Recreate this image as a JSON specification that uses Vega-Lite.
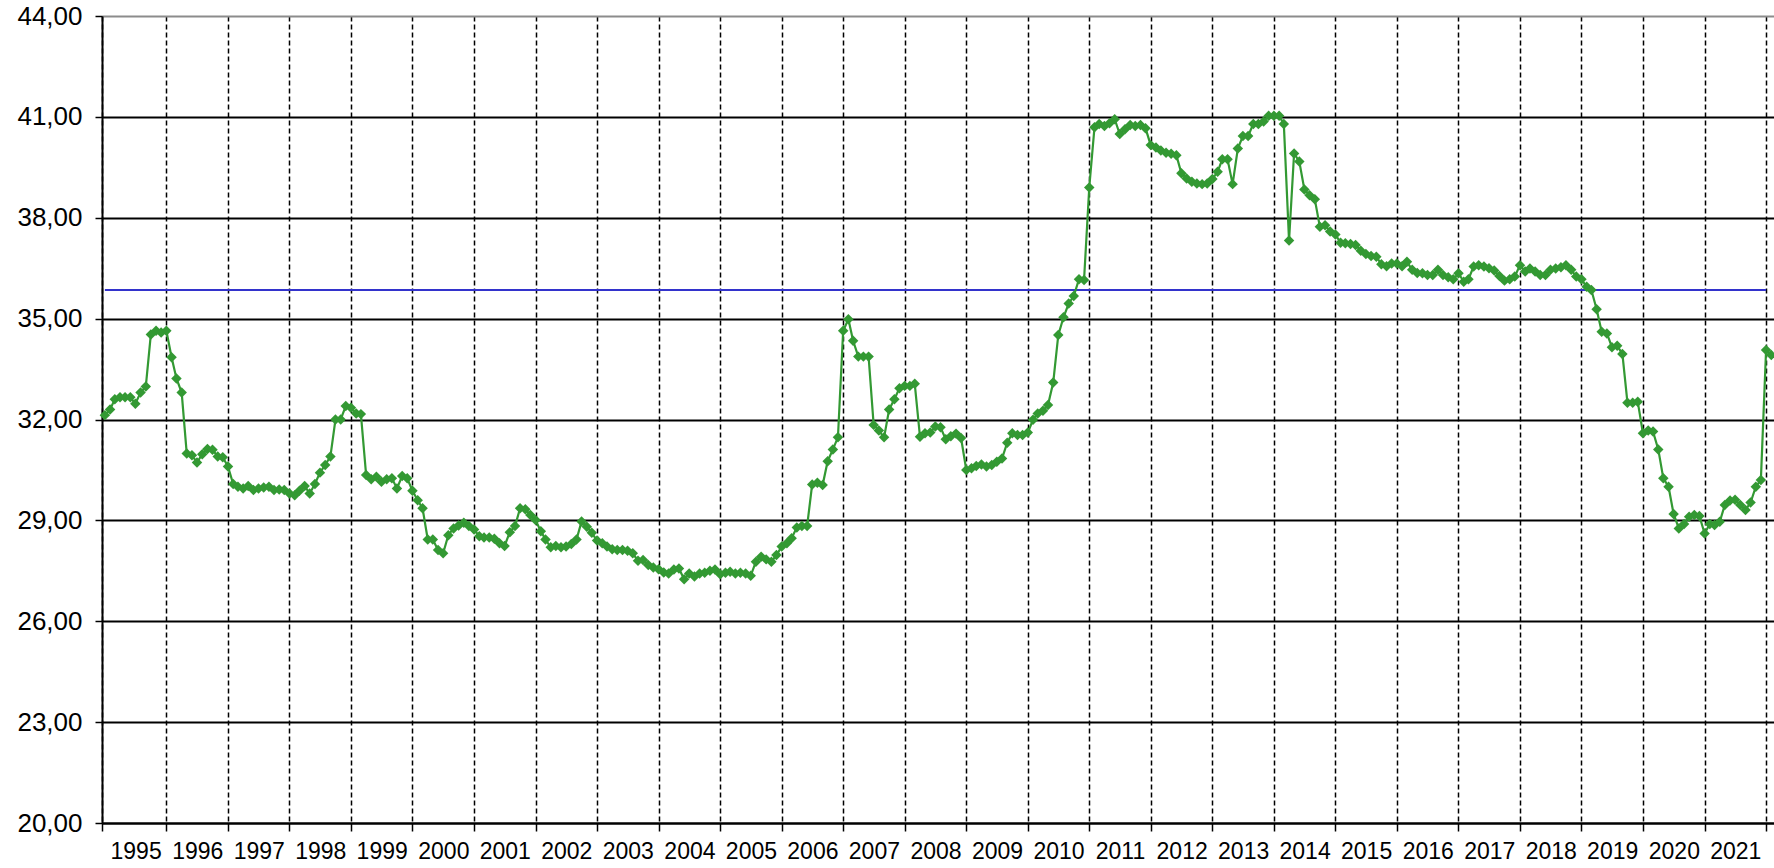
{
"$schema":"https://vega.github.io/schema/vega-lite/v6.json",
"width":1672,"height":807,
"autosize":{"type":"none"},
"padding":{"left":102,"top":16,"right":0,"bottom":45},
"background":"white",
"config":{"view":{"stroke":null},"font":"Liberation Sans"},
"datasets":{
"series":[
{"d":"1995-01-01","v":32.13},{"d":"1995-02-01","v":32.30},{"d":"1995-03-01","v":32.60},{"d":"1995-04-01","v":32.66},{"d":"1995-05-01","v":32.66},{"d":"1995-06-01","v":32.66},{"d":"1995-07-01","v":32.47},{"d":"1995-08-01","v":32.80},{"d":"1995-09-01","v":32.98},{"d":"1995-10-01","v":34.53},{"d":"1995-11-01","v":34.64},{"d":"1995-12-01","v":34.59},
{"d":"1996-01-01","v":34.64},{"d":"1996-02-01","v":33.85},{"d":"1996-03-01","v":33.22},{"d":"1996-04-01","v":32.80},{"d":"1996-05-01","v":30.99},{"d":"1996-06-01","v":30.94},{"d":"1996-07-01","v":30.72},{"d":"1996-08-01","v":30.97},{"d":"1996-09-01","v":31.12},{"d":"1996-10-01","v":31.10},{"d":"1996-11-01","v":30.90},{"d":"1996-12-01","v":30.88},
{"d":"1997-01-01","v":30.60},{"d":"1997-02-01","v":30.08},{"d":"1997-03-01","v":30.00},{"d":"1997-04-01","v":29.95},{"d":"1997-05-01","v":30.02},{"d":"1997-06-01","v":29.90},{"d":"1997-07-01","v":29.95},{"d":"1997-08-01","v":29.98},{"d":"1997-09-01","v":30.00},{"d":"1997-10-01","v":29.90},{"d":"1997-11-01","v":29.92},{"d":"1997-12-01","v":29.90},
{"d":"1998-01-01","v":29.80},{"d":"1998-02-01","v":29.75},{"d":"1998-03-01","v":29.88},{"d":"1998-04-01","v":30.02},{"d":"1998-05-01","v":29.80},{"d":"1998-06-01","v":30.08},{"d":"1998-07-01","v":30.42},{"d":"1998-08-01","v":30.65},{"d":"1998-09-01","v":30.90},{"d":"1998-10-01","v":32.00},{"d":"1998-11-01","v":32.00},{"d":"1998-12-01","v":32.40},
{"d":"1999-01-01","v":32.35},{"d":"1999-02-01","v":32.18},{"d":"1999-03-01","v":32.16},{"d":"1999-04-01","v":30.35},{"d":"1999-05-01","v":30.22},{"d":"1999-06-01","v":30.30},{"d":"1999-07-01","v":30.15},{"d":"1999-08-01","v":30.22},{"d":"1999-09-01","v":30.25},{"d":"1999-10-01","v":29.95},{"d":"1999-11-01","v":30.32},{"d":"1999-12-01","v":30.25},
{"d":"2000-01-01","v":29.88},{"d":"2000-02-01","v":29.60},{"d":"2000-03-01","v":29.36},{"d":"2000-04-01","v":28.43},{"d":"2000-05-01","v":28.43},{"d":"2000-06-01","v":28.12},{"d":"2000-07-01","v":28.02},{"d":"2000-08-01","v":28.56},{"d":"2000-09-01","v":28.76},{"d":"2000-10-01","v":28.85},{"d":"2000-11-01","v":28.93},{"d":"2000-12-01","v":28.83},
{"d":"2001-01-01","v":28.73},{"d":"2001-02-01","v":28.53},{"d":"2001-03-01","v":28.49},{"d":"2001-04-01","v":28.49},{"d":"2001-05-01","v":28.45},{"d":"2001-06-01","v":28.32},{"d":"2001-07-01","v":28.24},{"d":"2001-08-01","v":28.65},{"d":"2001-09-01","v":28.83},{"d":"2001-10-01","v":29.36},{"d":"2001-11-01","v":29.33},{"d":"2001-12-01","v":29.16},
{"d":"2002-01-01","v":29.01},{"d":"2002-02-01","v":28.68},{"d":"2002-03-01","v":28.43},{"d":"2002-04-01","v":28.20},{"d":"2002-05-01","v":28.24},{"d":"2002-06-01","v":28.20},{"d":"2002-07-01","v":28.22},{"d":"2002-08-01","v":28.30},{"d":"2002-09-01","v":28.43},{"d":"2002-10-01","v":28.97},{"d":"2002-11-01","v":28.81},{"d":"2002-12-01","v":28.63},
{"d":"2003-01-01","v":28.40},{"d":"2003-02-01","v":28.32},{"d":"2003-03-01","v":28.22},{"d":"2003-04-01","v":28.14},{"d":"2003-05-01","v":28.12},{"d":"2003-06-01","v":28.12},{"d":"2003-07-01","v":28.10},{"d":"2003-08-01","v":28.02},{"d":"2003-09-01","v":27.80},{"d":"2003-10-01","v":27.82},{"d":"2003-11-01","v":27.67},{"d":"2003-12-01","v":27.60},
{"d":"2004-01-01","v":27.55},{"d":"2004-02-01","v":27.45},{"d":"2004-03-01","v":27.42},{"d":"2004-04-01","v":27.54},{"d":"2004-05-01","v":27.57},{"d":"2004-06-01","v":27.25},{"d":"2004-07-01","v":27.42},{"d":"2004-08-01","v":27.33},{"d":"2004-09-01","v":27.42},{"d":"2004-10-01","v":27.44},{"d":"2004-11-01","v":27.50},{"d":"2004-12-01","v":27.54},
{"d":"2005-01-01","v":27.40},{"d":"2005-02-01","v":27.44},{"d":"2005-03-01","v":27.47},{"d":"2005-04-01","v":27.42},{"d":"2005-05-01","v":27.44},{"d":"2005-06-01","v":27.42},{"d":"2005-07-01","v":27.35},{"d":"2005-08-01","v":27.77},{"d":"2005-09-01","v":27.92},{"d":"2005-10-01","v":27.84},{"d":"2005-11-01","v":27.77},{"d":"2005-12-01","v":27.97},
{"d":"2006-01-01","v":28.22},{"d":"2006-02-01","v":28.32},{"d":"2006-03-01","v":28.47},{"d":"2006-04-01","v":28.79},{"d":"2006-05-01","v":28.83},{"d":"2006-06-01","v":28.83},{"d":"2006-07-01","v":30.07},{"d":"2006-08-01","v":30.12},{"d":"2006-09-01","v":30.05},{"d":"2006-10-01","v":30.76},{"d":"2006-11-01","v":31.11},{"d":"2006-12-01","v":31.47},
{"d":"2007-01-01","v":34.64},{"d":"2007-02-01","v":34.98},{"d":"2007-03-01","v":34.34},{"d":"2007-04-01","v":33.87},{"d":"2007-05-01","v":33.87},{"d":"2007-06-01","v":33.87},{"d":"2007-07-01","v":31.84},{"d":"2007-08-01","v":31.67},{"d":"2007-09-01","v":31.47},{"d":"2007-10-01","v":32.30},{"d":"2007-11-01","v":32.60},{"d":"2007-12-01","v":32.93},
{"d":"2008-01-01","v":33.00},{"d":"2008-02-01","v":33.00},{"d":"2008-03-01","v":33.06},{"d":"2008-04-01","v":31.49},{"d":"2008-05-01","v":31.59},{"d":"2008-06-01","v":31.61},{"d":"2008-07-01","v":31.79},{"d":"2008-08-01","v":31.77},{"d":"2008-09-01","v":31.41},{"d":"2008-10-01","v":31.50},{"d":"2008-11-01","v":31.58},{"d":"2008-12-01","v":31.45},
{"d":"2009-01-01","v":30.50},{"d":"2009-02-01","v":30.55},{"d":"2009-03-01","v":30.62},{"d":"2009-04-01","v":30.66},{"d":"2009-05-01","v":30.60},{"d":"2009-06-01","v":30.65},{"d":"2009-07-01","v":30.74},{"d":"2009-08-01","v":30.84},{"d":"2009-09-01","v":31.31},{"d":"2009-10-01","v":31.59},{"d":"2009-11-01","v":31.54},{"d":"2009-12-01","v":31.54},
{"d":"2010-01-01","v":31.61},{"d":"2010-02-01","v":31.99},{"d":"2010-03-01","v":32.18},{"d":"2010-04-01","v":32.26},{"d":"2010-05-01","v":32.43},{"d":"2010-06-01","v":33.10},{"d":"2010-07-01","v":34.51},{"d":"2010-08-01","v":35.04},{"d":"2010-09-01","v":35.45},{"d":"2010-10-01","v":35.67},{"d":"2010-11-01","v":36.17},{"d":"2010-12-01","v":36.15},
{"d":"2011-01-01","v":38.90},{"d":"2011-02-01","v":40.69},{"d":"2011-03-01","v":40.79},{"d":"2011-04-01","v":40.73},{"d":"2011-05-01","v":40.81},{"d":"2011-06-01","v":40.93},{"d":"2011-07-01","v":40.49},{"d":"2011-08-01","v":40.63},{"d":"2011-09-01","v":40.76},{"d":"2011-10-01","v":40.73},{"d":"2011-11-01","v":40.76},{"d":"2011-12-01","v":40.66},
{"d":"2012-01-01","v":40.16},{"d":"2012-02-01","v":40.09},{"d":"2012-03-01","v":40.00},{"d":"2012-04-01","v":39.93},{"d":"2012-05-01","v":39.90},{"d":"2012-06-01","v":39.86},{"d":"2012-07-01","v":39.32},{"d":"2012-08-01","v":39.17},{"d":"2012-09-01","v":39.07},{"d":"2012-10-01","v":39.02},{"d":"2012-11-01","v":39.00},{"d":"2012-12-01","v":39.02},
{"d":"2013-01-01","v":39.15},{"d":"2013-02-01","v":39.37},{"d":"2013-03-01","v":39.74},{"d":"2013-04-01","v":39.74},{"d":"2013-05-01","v":39.00},{"d":"2013-06-01","v":40.06},{"d":"2013-07-01","v":40.43},{"d":"2013-08-01","v":40.43},{"d":"2013-09-01","v":40.79},{"d":"2013-10-01","v":40.79},{"d":"2013-11-01","v":40.86},{"d":"2013-12-01","v":41.03},
{"d":"2014-01-01","v":41.03},{"d":"2014-02-01","v":41.03},{"d":"2014-03-01","v":40.79},{"d":"2014-04-01","v":37.32},{"d":"2014-05-01","v":39.91},{"d":"2014-06-01","v":39.67},{"d":"2014-07-01","v":38.84},{"d":"2014-08-01","v":38.67},{"d":"2014-09-01","v":38.55},{"d":"2014-10-01","v":37.73},{"d":"2014-11-01","v":37.78},{"d":"2014-12-01","v":37.59},
{"d":"2015-01-01","v":37.50},{"d":"2015-02-01","v":37.26},{"d":"2015-03-01","v":37.24},{"d":"2015-04-01","v":37.22},{"d":"2015-05-01","v":37.19},{"d":"2015-06-01","v":37.02},{"d":"2015-07-01","v":36.92},{"d":"2015-08-01","v":36.86},{"d":"2015-09-01","v":36.84},{"d":"2015-10-01","v":36.62},{"d":"2015-11-01","v":36.56},{"d":"2015-12-01","v":36.64},
{"d":"2016-01-01","v":36.64},{"d":"2016-02-01","v":36.56},{"d":"2016-03-01","v":36.69},{"d":"2016-04-01","v":36.45},{"d":"2016-05-01","v":36.36},{"d":"2016-06-01","v":36.35},{"d":"2016-07-01","v":36.30},{"d":"2016-08-01","v":36.30},{"d":"2016-09-01","v":36.45},{"d":"2016-10-01","v":36.30},{"d":"2016-11-01","v":36.23},{"d":"2016-12-01","v":36.17},
{"d":"2017-01-01","v":36.35},{"d":"2017-02-01","v":36.10},{"d":"2017-03-01","v":36.17},{"d":"2017-04-01","v":36.55},{"d":"2017-05-01","v":36.59},{"d":"2017-06-01","v":36.55},{"d":"2017-07-01","v":36.50},{"d":"2017-08-01","v":36.43},{"d":"2017-09-01","v":36.27},{"d":"2017-10-01","v":36.13},{"d":"2017-11-01","v":36.17},{"d":"2017-12-01","v":36.25},
{"d":"2018-01-01","v":36.59},{"d":"2018-02-01","v":36.40},{"d":"2018-03-01","v":36.49},{"d":"2018-04-01","v":36.40},{"d":"2018-05-01","v":36.30},{"d":"2018-06-01","v":36.30},{"d":"2018-07-01","v":36.45},{"d":"2018-08-01","v":36.49},{"d":"2018-09-01","v":36.53},{"d":"2018-10-01","v":36.59},{"d":"2018-11-01","v":36.45},{"d":"2018-12-01","v":36.25},
{"d":"2019-01-01","v":36.17},{"d":"2019-02-01","v":35.95},{"d":"2019-03-01","v":35.85},{"d":"2019-04-01","v":35.28},{"d":"2019-05-01","v":34.61},{"d":"2019-06-01","v":34.56},{"d":"2019-07-01","v":34.15},{"d":"2019-08-01","v":34.19},{"d":"2019-09-01","v":33.95},{"d":"2019-10-01","v":32.50},{"d":"2019-11-01","v":32.50},{"d":"2019-12-01","v":32.53},
{"d":"2020-01-01","v":31.59},{"d":"2020-02-01","v":31.67},{"d":"2020-03-01","v":31.64},{"d":"2020-04-01","v":31.11},{"d":"2020-05-01","v":30.25},{"d":"2020-06-01","v":30.00},{"d":"2020-07-01","v":29.19},{"d":"2020-08-01","v":28.76},{"d":"2020-09-01","v":28.89},{"d":"2020-10-01","v":29.11},{"d":"2020-11-01","v":29.16},{"d":"2020-12-01","v":29.13},
{"d":"2021-01-01","v":28.61},{"d":"2021-02-01","v":28.89},{"d":"2021-03-01","v":28.86},{"d":"2021-04-01","v":28.96},{"d":"2021-05-01","v":29.46},{"d":"2021-06-01","v":29.59},{"d":"2021-07-01","v":29.61},{"d":"2021-08-01","v":29.46},{"d":"2021-09-01","v":29.31},{"d":"2021-10-01","v":29.53},{"d":"2021-11-01","v":30.00},{"d":"2021-12-01","v":30.20},
{"d":"2022-01-01","v":34.07},{"d":"2022-02-01","v":33.92}
],
"avg":[{"d":"1995-01-01","d2":"2022-01-01","v":35.85}]
},
"layer":[
{
"data":{"name":"avg"},
"mark":{"type":"rule","color":"#3333CC","strokeWidth":2},
"encoding":{
"x":{"field":"d","type":"temporal","scale":{"type":"utc","domain":[{"year":1994,"month":12,"date":15,"utc":true},{"year":2022,"month":2,"date":17,"utc":true}]},
"axis":{"values":[{"year":1994,"month":12,"date":15,"utc":true},{"year":1996,"utc":true},{"year":1997,"utc":true},{"year":1998,"utc":true},{"year":1999,"utc":true},{"year":2000,"utc":true},{"year":2001,"utc":true},{"year":2002,"utc":true},{"year":2003,"utc":true},{"year":2004,"utc":true},{"year":2005,"utc":true},{"year":2006,"utc":true},{"year":2007,"utc":true},{"year":2008,"utc":true},{"year":2009,"utc":true},{"year":2010,"utc":true},{"year":2011,"utc":true},{"year":2012,"utc":true},{"year":2013,"utc":true},{"year":2014,"utc":true},{"year":2015,"utc":true},{"year":2016,"utc":true},{"year":2017,"utc":true},{"year":2018,"utc":true},{"year":2019,"utc":true},{"year":2020,"utc":true},{"year":2021,"utc":true},{"year":2022,"utc":true}],
"title":null,"grid":true,"gridColor":"black","gridDash":[5,3],"gridWidth":1.5,
"domain":true,"domainColor":"black","domainWidth":2,
"ticks":true,"tickSize":8,"tickColor":"black","tickWidth":1.5,
"labelExpr":"utcyear(datum.value) < 1995 ? '' : '' + (utcyear(datum.value) - 1)",
"labelOffset":-30.76,"labelFlush":false,"labelOverlap":false,"labelBound":false,
"labelFont":"Liberation Sans","labelFontSize":23,"labelColor":"black","labelPadding":9}},
"x2":{"field":"d2"},
"y":{"field":"v","type":"quantitative","scale":{"domain":[20,44],"nice":false,"zero":false},
"axis":{"values":[20,23,26,29,32,35,38,41,44],"title":null,"grid":true,
"gridColor":{"condition":{"test":"datum.value == 44","value":"#8c8c8c"},"value":"black"},"gridWidth":1.8,
"domain":true,"domainColor":"black","domainWidth":2,
"ticks":true,"tickSize":7,"tickColor":"black","tickWidth":1.5,
"labelExpr":"replace(format(datum.value, '.2f'), '.', ',')",
"labelFont":"Liberation Sans","labelFontSize":26,"labelColor":"black","labelPadding":13}}
}
},
{
"data":{"name":"series"},
"mark":{"type":"line","color":"#339933","strokeWidth":2.2,"point":{"shape":"diamond","size":110,"filled":true,"color":"#339933","opacity":1}},
"encoding":{
"x":{"field":"d","type":"temporal"},
"y":{"field":"v","type":"quantitative"}
}
}
]
}
